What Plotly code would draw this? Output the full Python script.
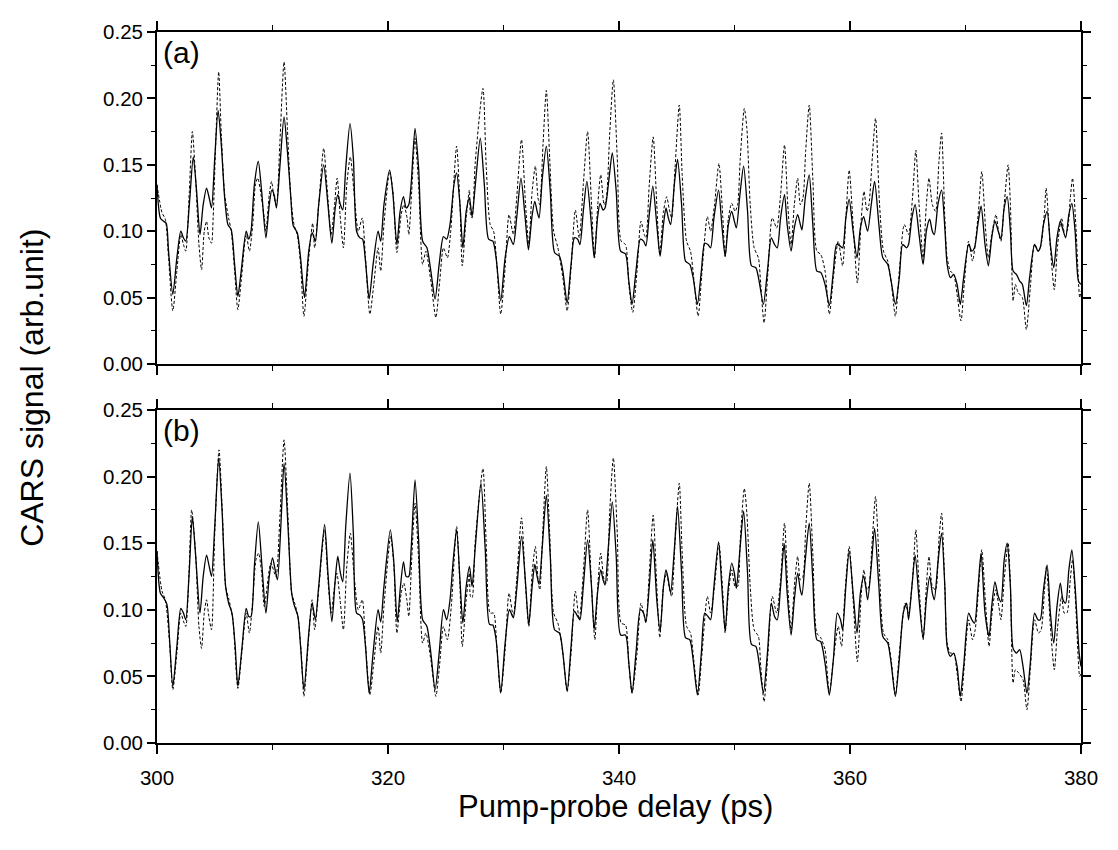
import plotly.graph_objects as go

# ---------------- data (x in ps, y in arb. unit) ----------------
top_solid = [
(300.00,0.135),(300.29,0.110),(300.57,0.1075),(300.80,0.106),(301.00,0.085),(301.37,0.0525),(301.72,0.080),(302.06,0.100),(302.29,0.095),(302.49,0.0925),(302.80,0.120),(303.14,0.156),(303.43,0.130),(303.72,0.0975),(304.00,0.120),(304.29,0.1325),(304.52,0.125),(304.72,0.1175),(305.00,0.155),(305.29,0.191),(305.57,0.165),(305.86,0.125),(306.14,0.105),(306.43,0.101),(306.72,0.075),(307.00,0.051),(307.29,0.070),(307.72,0.100),(307.94,0.094),(308.14,0.100),(308.43,0.135),(308.77,0.1525),(309.06,0.130),(309.43,0.095),(309.72,0.120),(309.94,0.131),(310.14,0.1275),(310.34,0.1175),(310.63,0.1475),(311.00,0.186),(311.29,0.160),(311.57,0.1275),(311.80,0.104),(312.14,0.099),(312.43,0.080),(312.77,0.050),
(313.14,0.085),(313.43,0.099),(313.71,0.0925),(314.00,0.120),(314.43,0.150),(314.80,0.120),(315.14,0.091),(315.43,0.1175),(315.65,0.1275),(315.88,0.120),(316.08,0.116),(316.34,0.1475),(316.71,0.181),(317.00,0.155),(317.28,0.100),(317.57,0.095),(317.80,0.094),(318.05,0.0775),(318.37,0.049),(318.71,0.075),(319.14,0.100),(319.37,0.0925),(319.65,0.120),(320.14,0.146),(320.43,0.1275),(320.77,0.090),(321.05,0.115),(321.34,0.126),(321.57,0.1175),(321.80,0.120),(322.00,0.135),(322.34,0.1775),(322.65,0.1475),(323.00,0.0925),(323.37,0.0875),(323.71,0.070),(324.08,0.049),(324.43,0.075),(324.80,0.096),(325.08,0.094),(325.37,0.105),(325.71,0.135),(325.94,0.144),(326.23,0.120),(326.48,0.0875),(326.77,0.115),(327.05,0.125),
(327.28,0.111),(327.56,0.135),(327.99,0.170),(328.34,0.135),(328.71,0.094),(329.08,0.0925),(329.36,0.080),(329.76,0.0475),(330.14,0.080),(330.51,0.096),(330.85,0.090),(331.14,0.110),(331.51,0.140),(331.85,0.1125),(332.16,0.086),(332.45,0.110),(332.71,0.1225),(332.91,0.115),(333.08,0.110),(333.36,0.140),(333.71,0.164),(334.05,0.130),(334.42,0.084),(334.85,0.081),(335.14,0.070),(335.51,0.046),(335.85,0.075),(336.14,0.095),(336.42,0.094),(336.62,0.090),(336.91,0.115),(337.22,0.1375),(337.56,0.110),(337.85,0.080),(338.14,0.110),(338.36,0.121),(338.62,0.116),(338.79,0.1175),(339.14,0.140),(339.42,0.159),(339.76,0.130),(340.14,0.085),(340.56,0.083),
(340.85,0.0625),(341.13,0.045),(341.47,0.070),(341.85,0.094),(342.13,0.0925),(342.33,0.089),(342.62,0.1125),(342.93,0.134),(343.27,0.105),(343.56,0.081),(343.85,0.105),(344.07,0.1175),(344.27,0.110),(344.47,0.105),(344.79,0.135),(345.07,0.154),(345.42,0.120),(345.76,0.0775),(346.13,0.075),(346.42,0.065),(346.79,0.045),(347.13,0.070),(347.42,0.091),(347.70,0.090),(347.93,0.0875),(348.22,0.110),(348.62,0.131),(348.90,0.105),(349.19,0.081),(349.47,0.105),(349.76,0.115),(349.99,0.1075),(350.16,0.1025),(350.47,0.1275),(350.79,0.149),(351.13,0.115),(351.47,0.074),(351.85,0.0725),(352.13,0.0625),(352.50,0.045),(352.85,0.070),(353.19,0.095),(353.47,0.090),(353.70,0.0875),(353.99,0.110),(354.33,0.1275),
(354.56,0.105),(354.90,0.085),(355.18,0.1025),(355.47,0.1125),(355.70,0.105),(355.84,0.101),(356.13,0.125),(356.47,0.1425),(356.78,0.105),(357.13,0.070),(357.47,0.069),(357.84,0.060),(358.21,0.044),(358.56,0.070),(358.84,0.090),(359.13,0.089),(359.36,0.0875),(359.64,0.110),(359.93,0.124),(360.27,0.100),(360.61,0.080),(360.90,0.1025),(361.18,0.111),(361.36,0.105),(361.53,0.100),(361.84,0.120),(362.13,0.1375),(362.50,0.105),(362.84,0.080),(363.27,0.075),(363.56,0.0625),(363.93,0.045),(364.27,0.065),(364.56,0.090),(364.90,0.0875),(365.07,0.090),(365.36,0.110),(365.64,0.120),(365.98,0.0975),(366.33,0.075),(366.61,0.100),(366.90,0.109),(367.13,0.100),(367.30,0.0975),(367.61,0.120),(367.93,0.131),
(368.21,0.1025),(368.41,0.075),(368.69,0.065),(368.98,0.0675),(369.27,0.060),(369.55,0.045),(369.84,0.065),(370.27,0.090),(370.55,0.085),(370.78,0.0875),(371.07,0.105),(371.35,0.119),(371.69,0.090),(371.98,0.074),(372.27,0.095),(372.55,0.1075),(372.84,0.100),(373.07,0.094),(373.35,0.1175),(373.61,0.126),(373.89,0.100),(374.12,0.070),(374.41,0.0675),(374.69,0.0625),(374.92,0.060),(375.27,0.044),(375.55,0.065),(375.98,0.090),(376.27,0.085),(376.47,0.0875),(376.75,0.105),(377.07,0.115),(377.35,0.090),(377.64,0.0725),(377.92,0.095),(378.21,0.1075),(378.44,0.101),(378.67,0.095),(378.95,0.1125),(379.21,0.121),(379.49,0.100),(379.78,0.0625),(380.00,0.060),
]

top_dashed = [
(300.00,0.135),(300.43,0.114),(300.72,0.109),(301.00,0.080),(301.37,0.040),(301.72,0.070),(302.06,0.0975),(302.29,0.090),(302.49,0.085),(302.80,0.130),(303.06,0.175),(303.34,0.140),(303.63,0.090),(303.86,0.071),(304.09,0.100),(304.29,0.1075),(304.49,0.095),(304.72,0.091),(304.86,0.110),(305.06,0.160),(305.34,0.220),(305.57,0.1725),(305.86,0.1275),(306.20,0.110),(306.43,0.100),(306.72,0.070),(307.00,0.041),(307.29,0.0625),(307.72,0.0975),(308.00,0.085),(308.29,0.105),(308.52,0.135),(308.72,0.140),(309.29,0.110),(309.43,0.100),(309.72,0.1275),(309.92,0.1375),(310.14,0.125),(310.34,0.120),(310.63,0.165),(311.00,0.2275),(311.29,0.1775),(311.57,0.1275),(311.86,0.105),(312.14,0.0975),(312.43,0.075),(312.72,0.036),(313.14,0.080),
(313.48,0.106),(313.65,0.0875),(314.00,0.120),(314.43,0.1625),(314.71,0.135),(315.08,0.0975),(315.37,0.120),(315.60,0.140),(315.85,0.1125),(316.14,0.0875),(316.43,0.135),(316.74,0.156),(317.05,0.130),(317.43,0.100),(317.77,0.110),(318.05,0.080),(318.43,0.0375),(318.77,0.060),(319.14,0.0875),(319.37,0.070),(319.65,0.105),(320.14,0.145),(320.43,0.130),(320.77,0.084),(321.14,0.1125),(321.37,0.120),(321.65,0.110),(321.80,0.0975),(322.05,0.130),(322.34,0.170),(322.65,0.135),(323.00,0.075),(323.28,0.085),(323.71,0.0625),(324.14,0.035),(324.48,0.0625),(324.80,0.0875),(325.14,0.080),(325.43,0.100),(325.94,0.164),(326.23,0.120),(326.43,0.074),(326.77,0.110),(327.05,0.131),
(327.14,0.1125),(327.28,0.110),(327.56,0.1525),(328.22,0.2075),(328.51,0.1475),(328.85,0.105),(329.14,0.100),(329.42,0.075),(329.76,0.0375),(330.14,0.0725),(330.48,0.1125),(330.85,0.0975),(331.14,0.125),(331.56,0.169),(331.91,0.120),(332.19,0.090),(332.48,0.130),(332.76,0.149),(332.99,0.125),(333.14,0.120),(333.42,0.165),(333.71,0.206),(334.00,0.155),(334.34,0.100),(334.71,0.0875),(335.14,0.065),(335.51,0.040),(335.85,0.0725),(336.22,0.116),(336.56,0.095),(336.91,0.135),(337.28,0.175),(337.62,0.120),(337.88,0.080),(338.16,0.120),(338.42,0.1425),(338.71,0.120),(338.91,0.125),(339.19,0.1725),(339.51,0.214),(339.85,0.155),(340.19,0.0925),(340.56,0.090),
(340.85,0.060),(341.19,0.039),(341.56,0.070),(341.90,0.1075),(342.19,0.0975),(342.33,0.095),(342.62,0.135),(342.96,0.171),(343.27,0.120),(343.53,0.0825),(343.85,0.115),(344.13,0.126),(344.33,0.1175),(344.56,0.110),(344.85,0.1475),(345.22,0.195),(345.47,0.1425),(345.85,0.0925),(346.19,0.085),(346.47,0.065),(346.85,0.036),(347.19,0.070),(347.65,0.111),(347.93,0.100),(348.27,0.120),(348.65,0.151),(348.99,0.110),(349.19,0.081),(349.47,0.110),(349.76,0.121),(350.05,0.115),(350.27,0.120),(350.50,0.155),(350.85,0.1925),(351.07,0.1775),(351.36,0.120),(351.70,0.0875),(352.07,0.080),(352.27,0.060),(352.56,0.031),(352.90,0.070),(353.27,0.110),(353.65,0.1025),(353.99,0.1275),(354.33,0.165),
(354.61,0.120),(354.90,0.090),(355.18,0.120),(355.47,0.140),(355.70,0.120),(355.93,0.125),(356.16,0.160),(356.47,0.195),(356.78,0.140),(357.13,0.085),(357.47,0.0825),(357.84,0.070),(358.21,0.0375),(358.56,0.065),(358.98,0.0925),(359.36,0.074),(359.64,0.110),(359.93,0.146),(360.27,0.105),(360.64,0.061),(360.98,0.110),(361.21,0.130),(361.47,0.115),(361.64,0.120),(361.93,0.155),(362.21,0.185),(362.56,0.120),(362.90,0.085),(363.27,0.0775),(363.56,0.0625),(363.93,0.036),(364.27,0.070),(364.70,0.105),(365.07,0.0975),(365.41,0.125),(365.70,0.161),(365.98,0.120),(366.33,0.080),(366.61,0.120),(366.84,0.140),(367.13,0.120),(367.41,0.115),(367.70,0.1525),(367.93,0.174),
(368.21,0.110),(368.41,0.080),(368.69,0.070),(368.98,0.0675),(369.27,0.0525),(369.61,0.0325),(369.89,0.060),(370.27,0.0925),(370.61,0.0775),(370.84,0.090),(371.12,0.115),(371.41,0.145),(371.75,0.100),(371.98,0.080),(372.27,0.0975),(372.64,0.1125),(372.89,0.0975),(373.07,0.0925),(373.35,0.120),(373.69,0.150),(373.89,0.120),(374.12,0.0475),(374.32,0.060),(374.55,0.054),(374.92,0.050),(375.27,0.026),(375.61,0.0575),(375.98,0.090),(376.32,0.085),(376.55,0.090),(376.84,0.115),(376.98,0.1325),(377.35,0.0875),(377.69,0.056),(377.98,0.090),(378.32,0.110),(378.55,0.100),(378.78,0.100),(379.07,0.125),(379.27,0.140),(379.55,0.105),(379.89,0.050),(380.00,0.055),
]

bottom_solid = [
(300.00,0.144),(300.29,0.1125),(300.57,0.109),(300.86,0.104),(301.09,0.0775),(301.37,0.0425),(301.72,0.0725),(302.06,0.101),(302.29,0.0975),(302.49,0.0925),(302.77,0.125),(303.06,0.170),(303.37,0.1375),(303.72,0.0975),(304.00,0.125),(304.29,0.141),(304.52,0.1325),(304.72,0.125),(305.00,0.1625),(305.34,0.214),(305.63,0.175),(305.94,0.1175),(306.20,0.105),(306.49,0.0975),(306.77,0.0725),(307.00,0.0425),(307.34,0.070),(307.72,0.101),(307.94,0.095),(308.14,0.095),(308.43,0.1325),(308.77,0.166),(309.09,0.1325),(309.43,0.0975),(309.72,0.125),(310.00,0.139),(310.23,0.130),(310.43,0.1225),(310.72,0.1625),(311.00,0.210),(311.34,0.1625),(311.66,0.1125),(311.86,0.104),(312.20,0.095),(312.43,0.0725),(312.72,0.040),
(313.14,0.0825),(313.43,0.105),(313.71,0.0925),(314.00,0.1175),(314.51,0.164),(314.80,0.1275),(315.14,0.091),(315.43,0.1225),(315.65,0.140),(315.88,0.1275),(316.08,0.121),(316.34,0.1625),(316.71,0.2025),(317.00,0.1575),(317.28,0.0975),(317.57,0.096),(317.80,0.0925),(318.05,0.0725),(318.37,0.0375),(318.71,0.0675),(319.14,0.100),(319.37,0.091),(319.65,0.1175),(320.20,0.160),(320.49,0.1375),(320.80,0.091),(321.08,0.1175),(321.34,0.136),(321.57,0.125),(321.80,0.125),(322.00,0.145),(322.34,0.1975),(322.65,0.1525),(323.00,0.0925),(323.37,0.0875),(323.71,0.0675),(324.08,0.040),(324.43,0.0675),(324.80,0.100),(325.08,0.0925),(325.37,0.1075),(325.65,0.1375),(325.94,0.160),(326.23,0.1225),(326.48,0.090),(326.77,0.1175),(327.05,0.1325),
(327.28,0.1175),(327.56,0.1475),(328.05,0.195),(328.42,0.145),(328.79,0.089),(329.08,0.0885),(329.36,0.0775),(329.76,0.0375),(330.14,0.075),(330.51,0.100),(330.85,0.094),(331.14,0.115),(331.56,0.155),(331.91,0.120),(332.19,0.0885),(332.48,0.1175),(332.71,0.134),(332.91,0.125),(333.08,0.119),(333.36,0.1475),(333.71,0.186),(334.05,0.140),(334.42,0.085),(334.85,0.0825),(335.14,0.0675),(335.51,0.039),(335.85,0.0725),(336.14,0.099),(336.42,0.095),(336.62,0.0925),(336.91,0.1175),(337.28,0.1525),(337.62,0.1175),(337.85,0.085),(338.14,0.1125),(338.42,0.130),(338.62,0.1225),(338.79,0.1185),(339.08,0.1475),(339.42,0.181),(339.76,0.140),(340.14,0.081),(340.56,0.081),
(340.85,0.060),(341.13,0.0375),(341.47,0.0675),(341.85,0.100),(342.13,0.0975),(342.33,0.091),(342.62,0.1175),(342.93,0.1525),(343.27,0.1075),(343.56,0.084),(343.85,0.1175),(344.07,0.130),(344.27,0.1225),(344.47,0.1125),(344.79,0.145),(345.07,0.1775),(345.42,0.1275),(345.76,0.079),(346.13,0.0775),(346.42,0.0625),(346.79,0.036),(347.13,0.0675),(347.42,0.0975),(347.70,0.095),(347.93,0.0925),(348.22,0.1175),(348.62,0.151),(348.90,0.1175),(349.19,0.084),(349.47,0.1175),(349.76,0.135),(349.99,0.1275),(350.16,0.116),(350.47,0.145),(350.79,0.174),(351.13,0.1275),(351.47,0.074),(351.85,0.0725),(352.13,0.060),(352.50,0.0375),(352.85,0.0675),(353.19,0.105),(353.47,0.095),(353.70,0.0925),(353.99,0.1175),(354.30,0.150),
(354.56,0.1125),(354.90,0.081),(355.18,0.1075),(355.47,0.1275),(355.70,0.115),(355.84,0.111),(356.13,0.1375),(356.47,0.165),(356.78,0.1225),(357.13,0.0775),(357.47,0.076),(357.84,0.060),(358.21,0.036),(358.56,0.0625),(358.90,0.0975),(359.18,0.0925),(359.36,0.085),(359.64,0.1175),(359.93,0.144),(360.27,0.1125),(360.61,0.0825),(360.90,0.1125),(361.18,0.125),(361.36,0.1175),(361.53,0.1075),(361.84,0.1325),(362.13,0.161),(362.50,0.1175),(362.84,0.080),(363.27,0.075),(363.56,0.060),(363.93,0.035),(364.27,0.0625),(364.61,0.0975),(364.90,0.105),(365.07,0.0925),(365.36,0.1175),(365.64,0.141),(365.98,0.1075),(366.33,0.0785),(366.61,0.1075),(366.90,0.125),(367.13,0.1125),(367.30,0.1075),(367.61,0.135),(367.93,0.1575),
(368.21,0.1175),(368.41,0.0725),(368.69,0.065),(368.98,0.0675),(369.27,0.0575),(369.55,0.035),(369.84,0.0575),(370.27,0.0975),(370.55,0.0925),(370.78,0.090),(371.07,0.115),(371.35,0.1425),(371.69,0.0975),(372.04,0.080),(372.27,0.1025),(372.55,0.121),(372.84,0.110),(373.07,0.106),(373.35,0.1375),(373.61,0.150),(373.89,0.1175),(374.12,0.071),(374.41,0.0675),(374.69,0.070),(374.98,0.0575),(375.32,0.0375),(375.61,0.060),(375.98,0.0975),(376.27,0.0925),(376.47,0.0925),(376.75,0.115),(377.07,0.1335),(377.35,0.0975),(377.64,0.075),(377.92,0.1025),(378.21,0.120),(378.44,0.1075),(378.67,0.105),(378.95,0.130),(379.21,0.145),(379.49,0.1175),(379.84,0.0675),(380.00,0.0575),
]

bottom_dashed = [
(300.00,0.144),(300.43,0.114),(300.72,0.1075),(301.09,0.075),(301.37,0.040),(301.72,0.0675),(302.06,0.0975),(302.29,0.0915),(302.49,0.0875),(302.77,0.1275),(303.00,0.175),(303.34,0.1425),(303.63,0.0875),(303.86,0.071),(304.09,0.0975),(304.29,0.1075),(304.49,0.095),(304.72,0.085),(305.00,0.1575),(305.37,0.220),(305.66,0.1725),(305.94,0.1175),(306.23,0.1075),(306.57,0.0925),(307.00,0.041),(307.34,0.0675),(307.72,0.0975),(308.00,0.0825),(308.29,0.1075),(308.57,0.1375),(308.80,0.1425),(309.06,0.1275),(309.29,0.1025),(309.86,0.135),(310.29,0.125),(310.63,0.1675),(311.00,0.2275),(311.34,0.170),(311.66,0.1125),(311.92,0.105),(312.20,0.095),(312.49,0.0675),(312.72,0.035),(313.14,0.080),
(313.43,0.1075),(313.65,0.085),(314.00,0.115),(314.51,0.160),(314.80,0.1225),(315.08,0.0975),(315.37,0.1175),(315.57,0.1275),(315.85,0.1075),(316.14,0.085),(316.43,0.1325),(316.74,0.1575),(317.05,0.1275),(317.43,0.100),(317.77,0.1075),(318.05,0.075),(318.43,0.036),(318.77,0.060),(319.14,0.0875),(319.37,0.0675),(319.65,0.1025),(320.23,0.155),(320.51,0.1325),(320.77,0.0825),(321.14,0.1125),(321.37,0.120),(321.63,0.1075),(321.80,0.095),(322.05,0.1375),(322.34,0.180),(322.65,0.1375),(323.00,0.075),(323.28,0.0825),(323.71,0.0625),(324.14,0.035),(324.48,0.060),(324.80,0.0875),(325.14,0.0775),(325.48,0.1025),(325.94,0.1625),(326.23,0.1175),(326.43,0.0725),(326.77,0.1075),(327.05,0.1275),
(327.14,0.110),(327.28,0.109),(327.56,0.1525),(328.22,0.206),(328.51,0.1475),(328.85,0.0975),(329.14,0.0975),(329.42,0.0725),(329.76,0.0375),(330.14,0.070),(330.48,0.1125),(330.85,0.095),(331.14,0.1225),(331.56,0.169),(331.91,0.1175),(332.19,0.0875),(332.48,0.1275),(332.76,0.1475),(332.99,0.1225),(333.14,0.115),(333.42,0.1625),(333.71,0.2075),(334.00,0.1575),(334.34,0.0975),(334.71,0.090),(335.14,0.0675),(335.51,0.0385),(335.85,0.0675),(336.22,0.114),(336.56,0.0925),(336.91,0.1275),(337.28,0.175),(337.62,0.1175),(337.91,0.0775),(338.16,0.1175),(338.42,0.1425),(338.71,0.1225),(338.91,0.120),(339.19,0.1725),(339.51,0.214),(339.85,0.1575),(340.19,0.090),(340.56,0.0885),
(340.85,0.060),(341.13,0.0375),(341.56,0.0675),(341.90,0.105),(342.19,0.095),(342.33,0.090),(342.62,0.1275),(342.96,0.171),(343.27,0.1175),(343.53,0.079),(343.85,0.1175),(344.13,0.1275),(344.33,0.1175),(344.56,0.110),(344.85,0.150),(345.22,0.195),(345.47,0.1425),(345.85,0.0875),(346.19,0.0825),(346.47,0.0625),(346.85,0.036),(347.19,0.0675),(347.65,0.110),(347.93,0.0975),(348.27,0.1175),(348.65,0.150),(348.99,0.1125),(349.19,0.0825),(349.47,0.1125),(349.76,0.130),(350.05,0.1175),(350.27,0.1175),(350.50,0.1525),(350.85,0.191),(351.07,0.1725),(351.36,0.1175),(351.70,0.085),(352.07,0.080),(352.27,0.0575),(352.56,0.031),(352.90,0.0675),(353.27,0.110),(353.65,0.0975),(353.99,0.1225),(354.33,0.165),
(354.61,0.1175),(354.90,0.085),(355.18,0.1175),(355.47,0.140),(355.70,0.1225),(355.93,0.125),(356.16,0.160),(356.47,0.195),(356.78,0.1425),(357.13,0.0825),(357.47,0.079),(357.84,0.070),(358.21,0.0375),(358.56,0.0625),(358.98,0.0875),(359.27,0.0725),(359.56,0.1125),(359.93,0.1475),(360.27,0.1075),(360.64,0.061),(360.98,0.1125),(361.21,0.130),(361.47,0.115),(361.64,0.1175),(361.93,0.1525),(362.21,0.185),(362.56,0.1275),(362.90,0.0825),(363.27,0.0775),(363.56,0.0625),(363.93,0.036),(364.27,0.0675),(364.78,0.105),(365.07,0.0975),(365.41,0.1225),(365.70,0.160),(365.98,0.1175),(366.33,0.0775),(366.61,0.1175),(366.84,0.140),(367.13,0.1175),(367.41,0.115),(367.70,0.1525),(367.93,0.1725),
(368.21,0.1175),(368.41,0.075),(368.69,0.0675),(368.98,0.0675),(369.27,0.0525),(369.61,0.031),(369.89,0.0575),(370.27,0.0925),(370.61,0.0775),(370.84,0.085),(371.12,0.115),(371.41,0.145),(371.75,0.1025),(372.04,0.0725),(372.27,0.095),(372.61,0.115),(372.89,0.1025),(373.07,0.0925),(373.35,0.1225),(373.69,0.150),(373.89,0.1175),(374.12,0.045),(374.32,0.055),(374.61,0.0525),(374.98,0.0475),(375.32,0.025),(375.61,0.055),(375.98,0.0925),(376.32,0.0825),(376.55,0.085),(376.84,0.115),(377.01,0.1325),(377.35,0.0875),(377.69,0.055),(377.98,0.0875),(378.32,0.110),(378.55,0.0975),(378.78,0.0975),(379.07,0.1225),(379.27,0.1375),(379.55,0.1025),(379.89,0.050),(380.00,0.0525),
]

panel_labels = ["(a)", "(b)"]
x_title = "Pump-probe delay (ps)"
y_title = "CARS signal (arb.unit)"
x_ticks = [300, 320, 340, 360, 380]
y_ticks = [0.00, 0.05, 0.10, 0.15, 0.20, 0.25]

# ---------------- figure ----------------
FONT = "Liberation Sans, Arial, sans-serif"
fig = go.Figure()

def add_series(pts, axis_suffix, dashed):
    xs, ys = zip(*pts)
    fig.add_trace(go.Scatter(
        x=list(xs), y=list(ys), mode="lines",
        xaxis="x" + axis_suffix, yaxis="y" + axis_suffix,
        line=dict(color="black", width=1.0 if dashed else 1.3,
                  dash="3px,2px" if dashed else "solid",
                  shape="spline", smoothing=0.7),
        showlegend=False, hoverinfo="skip"))

add_series(top_dashed, "", True)
add_series(top_solid, "", False)
add_series(bottom_dashed, "2", True)
add_series(bottom_solid, "2", False)

def xaxis_cfg(show_labels, anchor):
    return dict(range=[300, 380], tickvals=x_ticks, showticklabels=show_labels,
                ticks="outside", ticklen=9, tickwidth=1.5, tickcolor="black",
                minor=dict(dtick=10, tick0=300, ticks="outside", ticklen=5, tickwidth=1.2, tickcolor="black"),
                showline=True, linewidth=1.8, linecolor="black", mirror="allticks",
                showgrid=False, zeroline=False, anchor=anchor,
                tickfont=dict(family=FONT, size=20.5, color="black"),
                ticklabelstandoff=6)

def yaxis_cfg(domain, anchor):
    return dict(range=[0, 0.25], domain=domain, tickvals=y_ticks, tickformat=".2f",
                ticks="outside", ticklen=8, tickwidth=1.5, tickcolor="black",
                minor=dict(dtick=0.025, tick0=0, ticks="outside", ticklen=4, tickwidth=1.2, tickcolor="black"),
                showline=True, linewidth=1.8, linecolor="black", mirror="allticks",
                showgrid=False, zeroline=False, anchor=anchor,
                tickfont=dict(family=FONT, size=20.5, color="black"))

# page body adds an 8px margin; the figure is sized so the plot areas land where the reference has them
fig.update_layout(
    width=1102, height=834,
    margin=dict(l=149, r=20, t=20, b=99),
    paper_bgcolor="white", plot_bgcolor="white",
    xaxis=xaxis_cfg(False, "y"),
    yaxis=yaxis_cfg([0.533, 1.0], "x"),
    xaxis2=xaxis_cfg(True, "y2"),
    yaxis2=yaxis_cfg([0.0, 0.4685], "x2"),
    annotations=[
        dict(text=panel_labels[0], xref="paper", yref="paper", x=0.004, y=0.997,
             xanchor="left", yanchor="top", showarrow=False,
             font=dict(family=FONT, size=30, color="black")),
        dict(text=panel_labels[1], xref="paper", yref="paper", x=0.004, y=0.4655,
             xanchor="left", yanchor="top", showarrow=False,
             font=dict(family=FONT, size=30, color="black")),
        dict(text=x_title, xref="paper", yref="paper", x=0.496, y=-0.09,
             xanchor="center", yanchor="middle", showarrow=False,
             font=dict(family=FONT, size=31, color="black")),
        dict(text=y_title, xref="paper", yref="paper", x=-0.136, y=0.5,
             xanchor="center", yanchor="middle", showarrow=False, textangle=-90,
             font=dict(family=FONT, size=32, color="black")),
    ],
)

fig.write_html("out.html")
